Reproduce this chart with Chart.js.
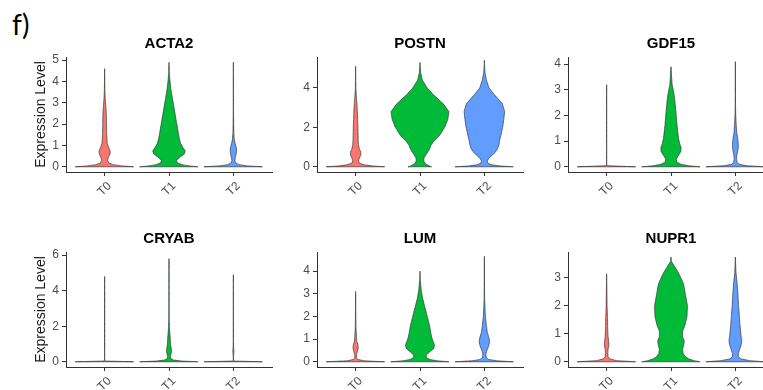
<!DOCTYPE html>
<html>
<head>
<meta charset="utf-8">
<script src="https://cdn.jsdelivr.net/npm/chart.js@4.4.1/dist/chart.umd.min.js"></script>
<style>
    body { margin: 0; width: 763px; height: 390px; overflow: hidden; background: #fff; position: relative; }
    #panelLabel { position: absolute; left: 12px; top: 8px; font: 28px Lato, "Open Sans", sans-serif; line-height: 32px; color: #000; }
    canvas { position: absolute; }
</style>
</head>
<body>
<div id="panelLabel">f)</div>
<script>
// Groups and genes
const categories = ["T0", "T1", "T2"];
const genes = ["ACTA2", "POSTN", "GDF15", "CRYAB", "LUM", "NUPR1"];
const groupColors = ["#F8766D", "#00BA38", "#619CFF"];

// Expression levels where the violin widths are read
const yGrid = [0, 0.04, 0.1, 0.18, 0.3, 0.45, 0.6, 0.75, 0.9, 1.1, 1.3, 1.6, 2.0, 2.4, 2.8, 3.2, 3.6, 4.0, 4.4, 4.8, 5.2, 5.6];

// Axis top and tick step for each gene
const yTop = [5.145, 5.57, 4.28, 6.17, 4.84, 3.93];
const yStep = [1, 2, 1, 2, 1, 1];

// Highest value of each violin (T0, T1, T2)
const maxACTA2 = [4.6, 4.9, 4.9];
const maxPOSTN = [5.1, 5.3, 5.4];
const maxGDF15 = [3.2, 3.9, 4.1];
const maxCRYAB = [4.8, 5.8, 4.9];
const maxLUM = [3.1, 4.0, 4.65];
const maxNUPR1 = [3.15, 3.75, 3.75];

// Relative half-widths (1 = widest) at the yGrid levels
const acta2T0 = [1, .6, .3, .15, .1, .13, .19, .19, .14, .09, .08, .07, .065, .06, .045, .02, .008, .005, .004];
const acta2T1 = [1, .7, .45, .3, .25, .38, .53, .56, .48, .4, .36, .32, .27, .22, .17, .12, .07, .035, .01, .004];
const acta2T2 = [1, .5, .2, .08, .05, .07, .1, .11, .1, .06, .03, .015, .01, .005, .004, .004, .004, .004, .004, .004];

const postnT0 = [1, .6, .3, .13, .1, .13, .18, .18, .13, .1, .09, .085, .08, .07, .06, .045, .025, .008, .005, .004];
const postnT1 = [.4, .33, .25, .17, .13, .14, .2, .27, .33, .38, .48, .68, .85, .96, 1, .8, .5, .25, .08, .02, .004];
const postnT2 = [1, .55, .25, .12, .1, .16, .28, .38, .45, .5, .52, .57, .63, .67, .7, .62, .38, .16, .07, .02, .005];

const gdf15T0 = [1, .02, .004, .004, .004, .004, .004, .004, .004, .004, .004, .004, .004, .004, .004];
const gdf15T1 = [1, .6, .35, .2, .18, .26, .34, .35, .3, .26, .24, .21, .18, .15, .11, .04, .015];
const gdf15T2 = [1, .4, .12, .06, .04, .05, .08, .1, .1, .08, .05, .03, .012, .005, .004, .004, .004, .004];

const cryabT0 = [1, .02, .004, .004, .004, .004, .004, .004, .004, .004, .004, .004, .004, .004, .004, .004, .004, .004, .004];
const cryabT1 = [1, .45, .15, .06, .05, .07, .09, .08, .06, .05, .045, .03, .015, .006, .004, .004, .004, .004, .004, .004, .004, .004];
const cryabT2 = [1, .02, .006, .005, .006, .012, .02, .012, .006, .005, .004, .004, .004, .004, .004, .004, .004, .004, .004, .004];

const lumT0 = [1, .3, .08, .03, .03, .06, .09, .08, .04, .03, .02, .01, .006, .004, .004];
const lumT1 = [1, .6, .35, .22, .22, .35, .48, .5, .45, .4, .37, .33, .25, .17, .09, .04, .01];
const lumT2 = [1, .45, .15, .07, .05, .07, .12, .16, .18, .15, .1, .07, .035, .02, .008, .005, .004, .004, .004];

const nupr1T0 = [1, .35, .12, .05, .04, .05, .08, .07, .05, .04, .035, .03, .015, .01, .005];
const nupr1T1 = [1, .8, .62, .5, .42, .4, .44, .46, .4, .4, .48, .55, .57, .5, .43, .25, .01];
const nupr1T2 = [1, .5, .2, .1, .1, .15, .2, .22, .2, .18, .16, .14, .11, .09, .06, .02, .005];

const geneWidths = [
    [acta2T0, acta2T1, acta2T2],
    [postnT0, postnT1, postnT2],
    [gdf15T0, gdf15T1, gdf15T2],
    [cryabT0, cryabT1, cryabT2],
    [lumT0, lumT1, lumT2],
    [nupr1T0, nupr1T1, nupr1T2]
];
const geneMax = [maxACTA2, maxPOSTN, maxGDF15, maxCRYAB, maxLUM, maxNUPR1];

const fontFamily = "'Liberation Sans', Arial, sans-serif";
const halfWidth = 0.45;   // violin half-width in category units
const colLeft = [16, 267, 518];
const rowTop = [27, 222];

// Outline of one violin: up the left side, down the right side
function violinPoints(center, widths, top) {
    const left = [];
    const right = [];
    widths.forEach((w, k) => {
        if (yGrid[k] >= top) return;
        left.push({ x: center - w * halfWidth, y: yGrid[k] });
        right.unshift({ x: center + w * halfWidth, y: yGrid[k] });
    });
    const pts = left.concat([{ x: center, y: top }], right);
    pts.push(pts[0]);
    return pts;
}

genes.forEach((gene, i) => {
    const col = i % 3;
    const row = Math.floor(i / 3);

    const canvas = document.createElement("canvas");
    canvas.width = 276;
    canvas.height = 180;
    canvas.style.left = colLeft[col] + "px";
    canvas.style.top = rowTop[row] + "px";
    document.body.appendChild(canvas);

    const datasets = categories.map((cat, g) => ({
        label: cat,
        data: violinPoints(g + 1, geneWidths[i][g], geneMax[i][g]),
        showLine: true,
        pointRadius: 0,
        borderWidth: 0.7,
        borderColor: "#333333",
        borderJoinStyle: "round",
        borderCapStyle: "round",
        backgroundColor: groupColors[g],
        fill: "shape",
        // a tiny tension keeps Chart.js off its x-sorted fast path,
        // which would merge points of the closed outline
        tension: 0.0001
    }));

    const top = yTop[i];

    new Chart(canvas.getContext("2d"), {
        type: "scatter",
        data: { datasets: datasets },
        options: {
            responsive: false,
            animation: false,
            events: [],
            layout: { padding: { left: 0, right: 20, top: 0, bottom: 0 } },
            scales: {
                x: {
                    type: "linear",
                    min: 0.4,
                    max: 3.6,
                    afterFit: s => { s.height = 35; },
                    grid: { drawOnChartArea: false, drawTicks: true, tickLength: 4, color: "#333333" },
                    border: { display: true, color: "#333333", width: 1 },
                    ticks: {
                        stepSize: 1,
                        includeBounds: false,
                        autoSkip: false,
                        minRotation: 45,
                        maxRotation: 45,
                        padding: 3,
                        labelOffset: 5,
                        color: "#4d4d4d",
                        font: { family: fontFamily, size: 12 },
                        callback: v => categories[v - 1]
                    }
                },
                y: {
                    min: -top * 0.05 / 1.05,
                    max: top,
                    afterFit: s => { s.width = 50; },
                    grid: { drawOnChartArea: false, drawTicks: true, tickLength: 4, color: "#333333" },
                    border: { display: true, color: "#333333", width: 1 },
                    title: {
                        display: col === 0,
                        text: "Expression Level",
                        color: "#1a1a1a",
                        font: { family: fontFamily, size: 14 },
                        padding: { top: 17, bottom: 0 }
                    },
                    ticks: {
                        stepSize: yStep[i],
                        includeBounds: false,
                        padding: 3,
                        color: "#4d4d4d",
                        font: { family: fontFamily, size: 12 }
                    }
                }
            },
            plugins: {
                legend: { display: false },
                tooltip: { enabled: false },
                title: {
                    display: true,
                    text: gene,
                    fullSize: false,
                    color: "#000000",
                    font: { family: fontFamily, size: 15, weight: "bold" },
                    padding: { top: 8, bottom: 4 }
                }
            }
        }
    });
});
</script>
</body>
</html>
